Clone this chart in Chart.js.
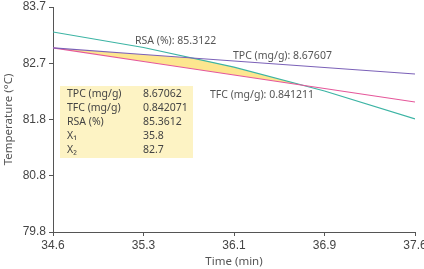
<!DOCTYPE html>
<html>
<head>
<meta charset="utf-8">
<title>Temperature vs time</title>
<script src="https://cdn.jsdelivr.net/npm/chart.js"></script>
<style>
  html, body { margin: 0; padding: 0; background: #fff; }
  #wrap { width: 424px; height: 269px; }
</style>
</head>
<body>
<div id="wrap"><canvas id="chart"></canvas></div>
<script>
const times = [34.6, 35.35, 36.1, 36.85, 37.6];
const tpc = [82.99, 82.877, 82.764, 82.651, 82.539];
const tfc = [82.99, 82.755, 82.521, 82.287, 82.053];
const rsa = [83.267, 82.998, 82.657, 82.244, 81.759];

// top edge of the shaded region (TPC line, then RSA line after they cross)
const regionTimes = [34.6, 35.35, 35.78, 36.1, 36.73];
const regionTop = [82.99, 82.877, 82.81, 82.657, 82.315];

const xTicks = [34.6, 35.35, 36.1, 36.85, 37.6];
const xTickLabels = ['34.6', '35.3', '36.1', '36.9', '37.6'];
const yTicks = [79.8, 80.775, 81.75, 82.725, 83.7];
const yTickLabels = ['79.8', '80.8', '81.8', '82.7', '83.7'];

const lineLabels = ['RSA (%): 85.3122', 'TPC (mg/g): 8.67607', 'TFC (mg/g): 0.841211'];
const boxLabels = ['TPC (mg/g)', 'TFC (mg/g)', 'RSA (%)', 'X\u2081', 'X\u2082'];
const boxValues = ['8.67062', '0.842071', '85.3612', '35.8', '82.7'];

const pts = (xs, ys) => xs.map((x, i) => ({ x: x, y: ys[i] }));

const textFont = '10.5px "Noto Sans", sans-serif';
const axisColor = '#555';

// labels on the lines + the yellow optimum box
const notes = {
  id: 'notes',
  afterDatasetsDraw(chart) {
    const ctx = chart.ctx;
    const a = chart.chartArea;
    ctx.save();
    ctx.font = textFont;
    ctx.fillStyle = '#555';
    ctx.textBaseline = 'middle';
    ctx.textAlign = 'left';
    ctx.fillText(lineLabels[0], a.left + 82, a.top + 34);
    ctx.fillText(lineLabels[1], a.left + 180, a.top + 49);
    ctx.fillText(lineLabels[2], a.left + 157, a.top + 88);

    // box
    const bx = a.left + 7, by = a.top + 79;
    ctx.fillStyle = '#fdf3c4';
    ctx.fillRect(bx, by, 133, 72);
    ctx.fillStyle = '#444';
    for (let i = 0; i < boxLabels.length; i++) {
      const y = by + 8 + i * 14;
      ctx.fillText(boxLabels[i], bx + 7, y);
      ctx.fillText(boxValues[i], bx + 83, y);
    }
    ctx.restore();
  }
};

new Chart(document.getElementById('chart'), {
  type: 'line',
  data: {
    datasets: [
      { label: 'TPC', data: pts(times, tpc), borderColor: '#7b61b8', borderWidth: 1.2, pointRadius: 0, fill: false },
      { label: 'TFC', data: pts(times, tfc), borderColor: '#e5579a', borderWidth: 1.2, pointRadius: 0, fill: false },
      { label: 'RSA', data: pts(times, rsa), borderColor: '#3cb4a4', borderWidth: 1.2, pointRadius: 0, fill: false },
      {
        label: 'region', data: pts(regionTimes, regionTop), borderWidth: 0, pointRadius: 0,
        fill: { target: 1, above: '#fde68f', below: 'rgba(0,0,0,0)' }
      }
    ]
  },
  options: {
    responsive: true,
    maintainAspectRatio: false,
    animation: false,
    layout: { padding: { top: 7, right: 9, left: 0, bottom: 0 } },
    plugins: { legend: { display: false }, tooltip: { enabled: false } },
    scales: {
      x: {
        type: 'linear',
        min: 34.6,
        max: 37.6,
        afterBuildTicks: s => { s.ticks = xTicks.map(v => ({ value: v })); },
        afterFit: s => { s.paddingLeft = 0; s.paddingRight = 0; s.height = 37; },
        ticks: {
          callback: (v, i) => xTickLabels[i],
          autoSkip: false, maxRotation: 0, padding: 2,
          color: '#444', font: { family: '"Liberation Sans", Arial, sans-serif', size: 12 }
        },
        grid: { drawOnChartArea: false, tickLength: 4, color: axisColor },
        border: { color: axisColor, width: 1 },
        title: {
          display: true, text: 'Time (min)', color: '#555', padding: { top: 2, bottom: 0 },
          font: { family: '"Noto Sans", sans-serif', size: 11.5 }
        }
      },
      y: {
        min: 79.8,
        max: 83.7,
        afterBuildTicks: s => { s.ticks = yTicks.map(v => ({ value: v })); },
        afterFit: s => { s.paddingTop = 0; s.paddingBottom = 0; s.width = 53; },
        ticks: {
          callback: (v, i) => yTickLabels[i],
          autoSkip: false, padding: 3,
          color: '#444', font: { family: '"Liberation Sans", Arial, sans-serif', size: 12 }
        },
        grid: { drawOnChartArea: false, tickLength: 4, color: axisColor },
        border: { color: axisColor, width: 1 },
        title: {
          display: true, text: 'Temperature (\u00b0C)', color: '#555', padding: { top: 2, bottom: 0 },
          font: { family: '"Noto Sans", sans-serif', size: 11.5 }
        }
      }
    }
  },
  plugins: [notes]
});
</script>
</body>
</html>
